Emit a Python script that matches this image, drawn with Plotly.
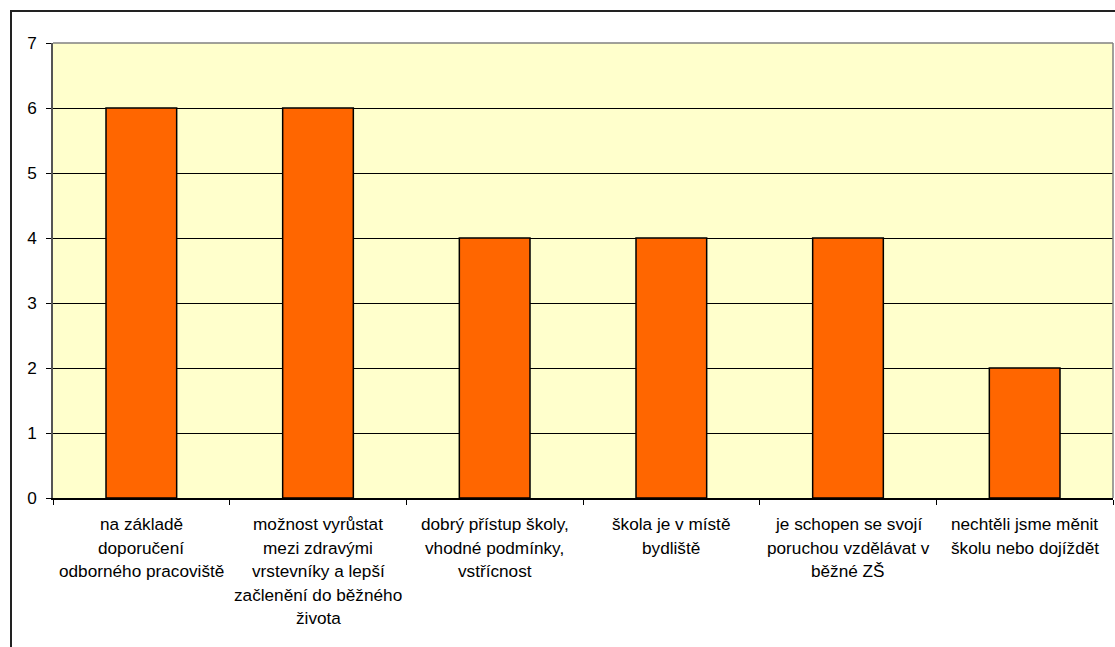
import plotly.graph_objects as go

# Reasons for choosing the school (number of answers)
categories = [
    "na základě\ndoporučení\nodborného pracoviště",
    "možnost vyrůstat\nmezi zdravými\nvrstevníky a lepší\nzačlenění do běžného\nživota",
    "dobrý přístup školy,\nvhodné podmínky,\nvstřícnost",
    "škola je v místě\nbydliště",
    "je schopen se svojí\nporuchou vzdělávat v\nběžné ZŠ",
    "nechtěli jsme měnit\nškolu nebo dojíždět",
]
values = [6, 6, 4, 4, 4, 2]
y_ticks = [0, 1, 2, 3, 4, 5, 6, 7]

FONT = "Liberation Sans, Arial, sans-serif"
FS = 17.2
W, H = 1115, 647
ML, MR, MT, MB = 53, 2, 43, 149
PW, PH = W - ML - MR, H - MT - MB

fig = go.Figure(
    go.Bar(
        x=categories,
        y=values,
        marker=dict(color="#FF6600", line=dict(color="black", width=1.5)),
        hoverinfo="skip",
    )
)

# category labels, one annotation per text line below the axis
annotations = []
for i, label in enumerate(categories):
    for j, line in enumerate(label.split("\n")):
        annotations.append(dict(
            x=i, y=0, xref="x", yref="y",
            text=line, showarrow=False,
            xanchor="center", yanchor="middle",
            yshift=-(26 + 23.5 * j),
            font=dict(family=FONT, size=FS, color="black"),
        ))

shapes = [
    # outer chart frame
    dict(type="rect", xref="paper", yref="paper",
         x0=(11 - ML) / PW, x1=1.2, y0=-0.6, y1=(H - MB - 11) / PH,
         line=dict(color="#222222", width=2), layer="above"),
    # grey top and right edges of the plot area
    dict(type="line", xref="paper", yref="paper", x0=0, x1=1, y0=1, y1=1,
         line=dict(color="#808080", width=1.5), layer="above"),
    dict(type="line", xref="paper", yref="paper", x0=1, x1=1, y0=0, y1=1,
         line=dict(color="#808080", width=1.5), layer="above"),
]

fig.update_layout(
    width=W, height=H,
    margin=dict(l=ML, r=MR, t=MT, b=MB, pad=0),
    paper_bgcolor="white",
    plot_bgcolor="#FFFFCC",
    bargap=0.6,
    showlegend=False,
    annotations=annotations,
    shapes=shapes,
    font=dict(family=FONT, size=FS, color="black"),
)

fig.update_xaxes(
    type="category",
    showticklabels=False,
    tickson="boundaries",
    ticks="outside", ticklen=5, tickcolor="black", tickwidth=1,
    showgrid=False,
    showline=True, linecolor="black", linewidth=1.5,
    fixedrange=True,
)
fig.update_yaxes(
    range=[0, 7],
    tickvals=y_ticks,
    ticks="outside", ticklen=5, tickcolor="black", tickwidth=1,
    ticklabelstandoff=6,
    showgrid=True, gridcolor="black", gridwidth=1,
    zeroline=False,
    showline=True, linecolor="#555555", linewidth=1.5,
    tickfont=dict(family=FONT, size=FS, color="black"),
    fixedrange=True,
)

fig.write_html("out.html")
